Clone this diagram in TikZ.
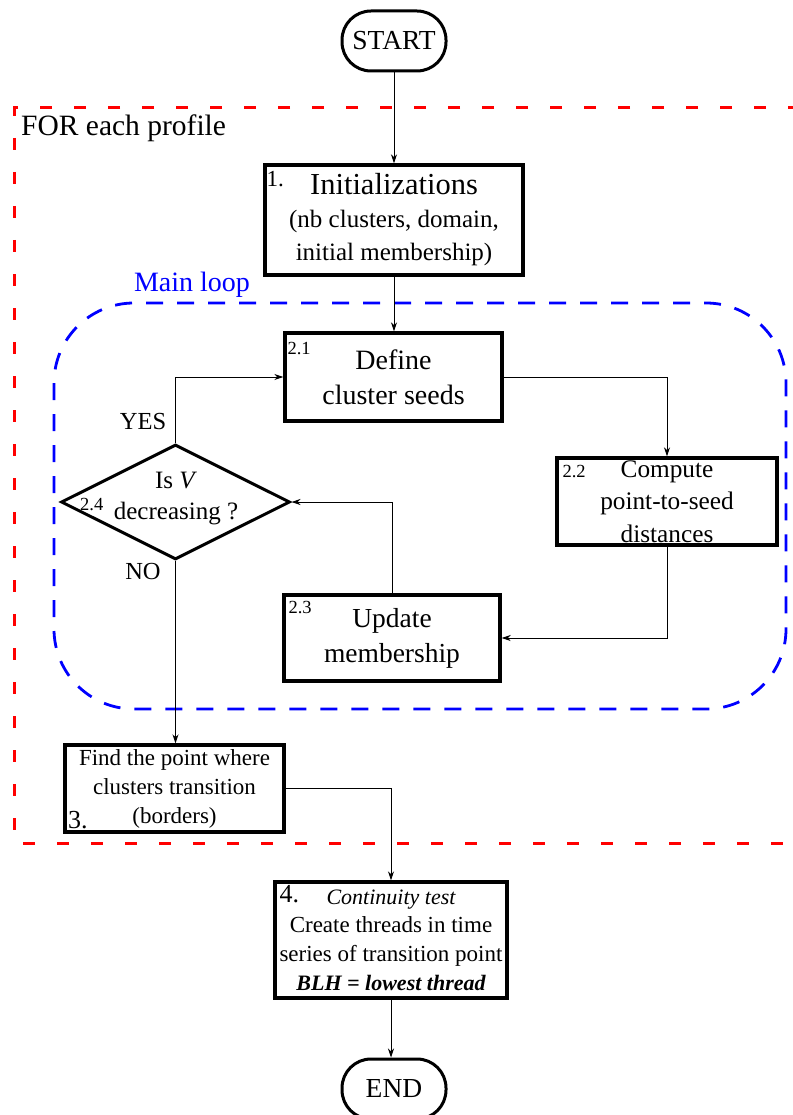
\documentclass[tikz,border=0pt]{standalone}
\usepackage{fontspec}
\setmainfont{Liberation Serif}
\usetikzlibrary{arrows.meta,shapes.geometric,calc}
\newcommand{\myfs}[2]{\fontsize{#1}{#2}\selectfont}
\begin{document}
\begin{tikzpicture}[x=1pt,y=-1pt,
  box/.style={draw, line width=3.4pt, rectangle, align=center, inner sep=0pt},
  term/.style={draw, line width=3pt, rectangle, rounded corners=29pt,
    minimum width=104pt, minimum height=60pt, inner sep=0pt, font=\myfs{27.5}{30}},
  conn/.style={line width=1pt, -{Stealth[length=9pt,width=6pt]}},
  num/.style={anchor=north west, inner sep=0pt},
  lbl/.style={inner sep=0pt, font=\myfs{24.5}{28}},
  redbox/.style={red, line width=3pt, dash pattern=on 12pt off 22pt},
  bluebox/.style={blue, line width=2.8pt, dash pattern=on 17pt off 14pt, rounded corners=80pt}
]
\useasboundingbox (0,0) rectangle (792,1115);

% group frames
\draw[redbox] (800,108) -- (14,108) -- (14,843) -- (800,843);
\draw[bluebox] (54,303) rectangle (786,709);
\node[lbl, anchor=west, font=\myfs{29.5}{31}] (forlbl) at (21,128) {FOR each profile};
\node[lbl, blue, font=\myfs{28}{30}] (looplbl) at (192,285) {Main loop};

% terminals
\node[term] (start) at (394,41) {START};
\node[term] (endn) at (394,1089) {END};

% boxes
\node[box, minimum width=258pt, minimum height=110pt, font=\myfs{25}{33}] (b1) at (394,220)
  {{\myfs{30.5}{33}Initializations}\\(nb clusters, domain,\\initial membership)};
\node[num, font=\myfs{23}{24}] (n1) at ([shift={(3,8)}]b1.north west) {1.};

\node[box, minimum width=217pt, minimum height=88pt, font=\myfs{28}{35}] (b21) at (393.5,377)
  {Define\\cluster seeds};
\node[num, font=\myfs{18.5}{20}] (n21) at ([shift={(4,11)}]b21.north west) {2.1};

\node[box, minimum width=220pt, minimum height=87pt, font=\myfs{25.3}{32.5}] (b22) at (667,501.5)
  {Compute\\point-to-seed\\distances};
\node[num, font=\myfs{18.5}{20}] (n22) at ([shift={(7,9)}]b22.north west) {2.2};

\node[box, minimum width=216pt, minimum height=86pt, font=\myfs{27.5}{35}] (b23) at (392,638)
  {Update\\membership};
\node[num, font=\myfs{18.5}{20}] (n23) at ([shift={(6,8)}]b23.north west) {2.3};

\node[diamond, draw, line width=3pt, minimum width=229pt, minimum height=115pt, inner sep=0pt]
  (dia) at (175.5,502) {};
\node[align=center, inner sep=0pt, font=\myfs{25}{31}] (diatxt) at (176,499)
  {Is \textit{V}\\decreasing ?};
\node[num, font=\myfs{18.5}{20}] (n24) at (80,498) {2.4};

\node[box, minimum width=219pt, minimum height=87pt, font=\myfs{23}{29}] (b3) at (174.5,788.5)
  {Find the point where\\clusters transition\\(borders)};
\node[inner sep=0pt, anchor=south west, font=\myfs{26}{28}] (n3) at (68,829) {3.};

\node[box, minimum width=232pt, minimum height=116pt, font=\myfs{23}{28.7}] (b4) at (391,940)
  {{\myfs{22}{28.7}\itshape Continuity test}\\Create threads in time\\series of transition point\\{\myfs{22}{28.7}\bfseries\itshape BLH = lowest thread}};
\node[num, font=\myfs{26}{28}] (n4) at ([shift={(6,5)}]b4.north west) {4.};

% connectors
\draw[conn] (start.south) -- (start.south |- b1.north);
\draw[conn] (b1.south) -- (b1.south |- b21.north);
\draw[conn] (b21.east) -| (b22.north);
\draw[conn] (b22.south) |- (b23.east);
\draw[conn] (b23.north) |- (dia.east);
\draw[conn] (dia.north) |- (b21.west);
\draw[conn] (dia.south) -- (dia.south |- b3.north);
\draw[conn] (b3.east) -| (b4.north);
\draw[conn] (b4.south) -- (b4.south |- endn.north);

\node[lbl] (yes) at (143,422) {YES};
\node[lbl] (no) at (143,572) {NO};
\end{tikzpicture}
\end{document}
